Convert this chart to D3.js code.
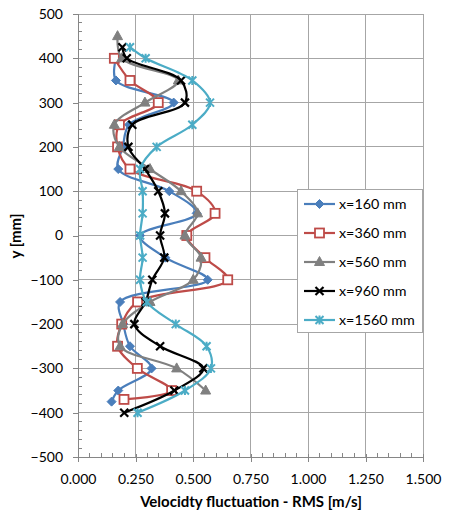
<!DOCTYPE html>
<html>
<head>
<meta charset="utf-8">
<script src="https://cdn.jsdelivr.net/npm/d3@7"></script>
<style>
  html, body { margin: 0; padding: 0; background: #fff; }
  svg { display: block; font-family: "Lato", "Liberation Sans", sans-serif; }
</style>
</head>
<body>
<svg id="chart" width="450" height="514"></svg>
<script>
// Measurement stations (legend labels)
const seriesNames = ["x=160 mm", "x=360 mm", "x=560 mm", "x=960 mm", "x=1560 mm"];

// Vertical positions y [mm] and RMS velocity fluctuation [m/s] per station
const yX160 = [400, 350, 300, 250, 200, 150, 100, 50, 0, -50, -100, -150, -200, -250, -300, -350, -375];
const vX160 = [0.165, 0.165, 0.416, 0.222, 0.195, 0.175, 0.397, 0.516, 0.270, 0.380, 0.564, 0.183, 0.197, 0.226, 0.320, 0.175, 0.146];

const yX360 = [400, 350, 300, 250, 200, 150, 100, 50, 0, -50, -100, -150, -200, -250, -300, -350, -370];
const vX360 = [0.158, 0.226, 0.349, 0.180, 0.172, 0.226, 0.516, 0.596, 0.473, 0.552, 0.651, 0.259, 0.190, 0.172, 0.258, 0.407, 0.200];

const yX560 = [450, 400, 350, 300, 250, 200, 150, 100, 50, 0, -50, -100, -150, -200, -250, -300, -350];
const vX560 = [0.172, 0.190, 0.436, 0.291, 0.158, 0.180, 0.313, 0.448, 0.520, 0.465, 0.535, 0.501, 0.313, 0.194, 0.183, 0.429, 0.555];

const yX960 = [425, 400, 350, 300, 250, 200, 150, 100, 50, 0, -50, -100, -150, -200, -250, -300, -350, -400];
const vX960 = [0.193, 0.212, 0.448, 0.465, 0.236, 0.219, 0.291, 0.349, 0.378, 0.357, 0.375, 0.323, 0.294, 0.245, 0.357, 0.545, 0.419, 0.201];

const yX1560 = [425, 400, 350, 300, 250, 200, 150, 100, 50, 0, -50, -100, -150, -200, -250, -300, -350, -400];
const vX1560 = [0.226, 0.294, 0.497, 0.574, 0.497, 0.342, 0.270, 0.281, 0.281, 0.270, 0.281, 0.270, 0.299, 0.425, 0.559, 0.578, 0.465, 0.259];

// Axis ticks
const xTicks = [0, 0.25, 0.5, 0.75, 1.0, 1.25, 1.5];
const yTicks = [500, 400, 300, 200, 100, 0, -100, -200, -300, -400, -500];

const xTitle = "Velocidty fluctuation  - RMS [m/s]";
const yTitle = "y [mm]";

const series = [
  { name: seriesNames[0], ys: yX160,  vs: vX160,  color: "#4A7EBB", marker: "diamond" },
  { name: seriesNames[1], ys: yX360,  vs: vX360,  color: "#BE4B48", marker: "square" },
  { name: seriesNames[2], ys: yX560,  vs: vX560,  color: "#808080", marker: "triangle" },
  { name: seriesNames[3], ys: yX960,  vs: vX960,  color: "#000000", marker: "cross" },
  { name: seriesNames[4], ys: yX1560, vs: vX1560, color: "#4BACC6", marker: "star" }
];

const svg = d3.select("#chart");
const x = d3.scaleLinear().domain([0, 1.5]).range([78, 423]);
const y = d3.scaleLinear().domain([-500, 500]).range([457, 14]);

const gridColor = "#A6A6A6";
const axisColor = "#868686";

// Gridlines
const grid = svg.append("g");
grid.selectAll("line.gx").data(xTicks.slice(1)).join("line")
  .attr("x1", d => x(d)).attr("x2", d => x(d))
  .attr("y1", y(500)).attr("y2", y(-500))
  .attr("stroke", gridColor).attr("stroke-width", 1).attr("shape-rendering", "crispEdges");
grid.selectAll("line.gy").data(yTicks.slice(0, -1)).join("line")
  .attr("x1", x(0)).attr("x2", x(1.5))
  .attr("y1", d => y(d)).attr("y2", d => y(d))
  .attr("stroke", gridColor).attr("stroke-width", 1).attr("shape-rendering", "crispEdges");

// Y axis with major (outside) and minor (inside) ticks
const yAxis = svg.append("g").attr("transform", `translate(${x(0)},0)`)
  .call(d3.axisLeft(y).tickValues(yTicks).tickSize(5).tickPadding(10).tickFormat(d3.format("d")));
yAxis.select(".domain").attr("stroke", axisColor).attr("shape-rendering", "crispEdges");
yAxis.selectAll(".tick line").attr("stroke", axisColor).attr("shape-rendering", "crispEdges");
yAxis.selectAll(".tick text").attr("font-size", 14).attr("fill", "#000").attr("font-family", "Lato, sans-serif");
yAxis.select(".domain").attr("d", `M-5,${y(500)}H0V${y(-500)}H-5`);
const yMinor = d3.range(-500, 501, 20).filter(v => v % 100 !== 0);
svg.append("g").selectAll("line").data(yMinor).join("line")
  .attr("x1", x(0)).attr("x2", x(0) + 4)
  .attr("y1", d => y(d)).attr("y2", d => y(d))
  .attr("stroke", axisColor).attr("shape-rendering", "crispEdges");

// X axis
const xAxis = svg.append("g").attr("transform", `translate(0,${y(-500)})`)
  .call(d3.axisBottom(x).tickValues(xTicks).tickSizeInner(5).tickSizeOuter(0).tickPadding(12).tickFormat(d3.format(".3f")));
xAxis.select(".domain").attr("stroke", axisColor).attr("shape-rendering", "crispEdges");
xAxis.selectAll(".tick line").attr("stroke", axisColor).attr("y1", -3).attr("shape-rendering", "crispEdges");
xAxis.selectAll(".tick text").attr("font-size", 14).attr("fill", "#000").attr("font-family", "Lato, sans-serif");
const xMinor = d3.range(0, 1.5001, 0.05).filter((v, i) => i % 5 !== 0);
svg.append("g").selectAll("line").data(xMinor).join("line")
  .attr("x1", d => x(d)).attr("x2", d => x(d))
  .attr("y1", y(-500)).attr("y2", y(-500) - 4)
  .attr("stroke", axisColor).attr("shape-rendering", "crispEdges");

// Axis titles
svg.append("text").attr("x", 251).attr("y", 507)
  .attr("text-anchor", "middle").attr("font-size", 15).attr("font-weight", "bold")
  .text(xTitle);
svg.append("text").attr("transform", `translate(21,236) rotate(-90)`)
  .attr("text-anchor", "middle").attr("font-size", 15).attr("font-weight", "bold")
  .text(yTitle);

// Marker drawing
function drawMarker(g, type, color) {
  if (type === "diamond") {
    g.append("path").attr("d", "M0,-4.5L4.5,0L0,4.5L-4.5,0Z")
      .attr("fill", color).attr("stroke", color).attr("stroke-width", 1);
  } else if (type === "square") {
    g.append("rect").attr("x", -4.5).attr("y", -4.5).attr("width", 9).attr("height", 9)
      .attr("fill", "#fff").attr("stroke", color).attr("stroke-width", 1.8);
  } else if (type === "triangle") {
    g.append("path").attr("d", "M0,-5.5L5,3.5L-5,3.5Z")
      .attr("fill", color).attr("stroke", color).attr("stroke-width", 1);
  } else if (type === "cross") {
    g.append("path").attr("d", "M-4,-4L4,4M-4,4L4,-4")
      .attr("stroke", color).attr("stroke-width", 2.2).attr("fill", "none");
  } else if (type === "star") {
    g.append("path").attr("d", "M-4,-4L4,4M-4,4L4,-4M0,-4.5V4.5")
      .attr("stroke", color).attr("stroke-width", 2).attr("fill", "none");
  }
}

const line = d3.line()
  .x(d => x(d.v)).y(d => y(d.y))
  .curve(d3.curveCatmullRom.alpha(0.5));

series.forEach(s => {
  const pts = s.ys.map((yy, i) => ({ y: yy, v: s.vs[i] }));
  const g = svg.append("g");
  g.append("path").datum(pts).attr("d", line)
    .attr("fill", "none").attr("stroke", s.color).attr("stroke-width", 2.2)
    .attr("stroke-linejoin", "round");
  g.selectAll("g.m").data(pts).join("g")
    .attr("transform", d => `translate(${x(d.v)},${y(d.y)})`)
    .each(function() { drawMarker(d3.select(this), s.marker, s.color); });
});

// Legend
const legend = svg.append("g");
legend.append("rect").attr("x", 297.5).attr("y", 189.5).attr("width", 125).attr("height", 143)
  .attr("fill", "#fff").attr("stroke", "#A6A6A6").attr("stroke-width", 1);
series.forEach((s, i) => {
  const ly = 204 + i * 29;
  const g = legend.append("g");
  g.append("line").attr("x1", 304).attr("x2", 335).attr("y1", ly).attr("y2", ly)
    .attr("stroke", s.color).attr("stroke-width", 2.2);
  const mg = g.append("g").attr("transform", `translate(319.5,${ly})`);
  drawMarker(mg, s.marker, s.color);
  g.append("text").attr("x", 339).attr("y", ly + 5)
    .attr("font-size", 14.3).attr("fill", "#000").text(s.name);
});
</script>
</body>
</html>
